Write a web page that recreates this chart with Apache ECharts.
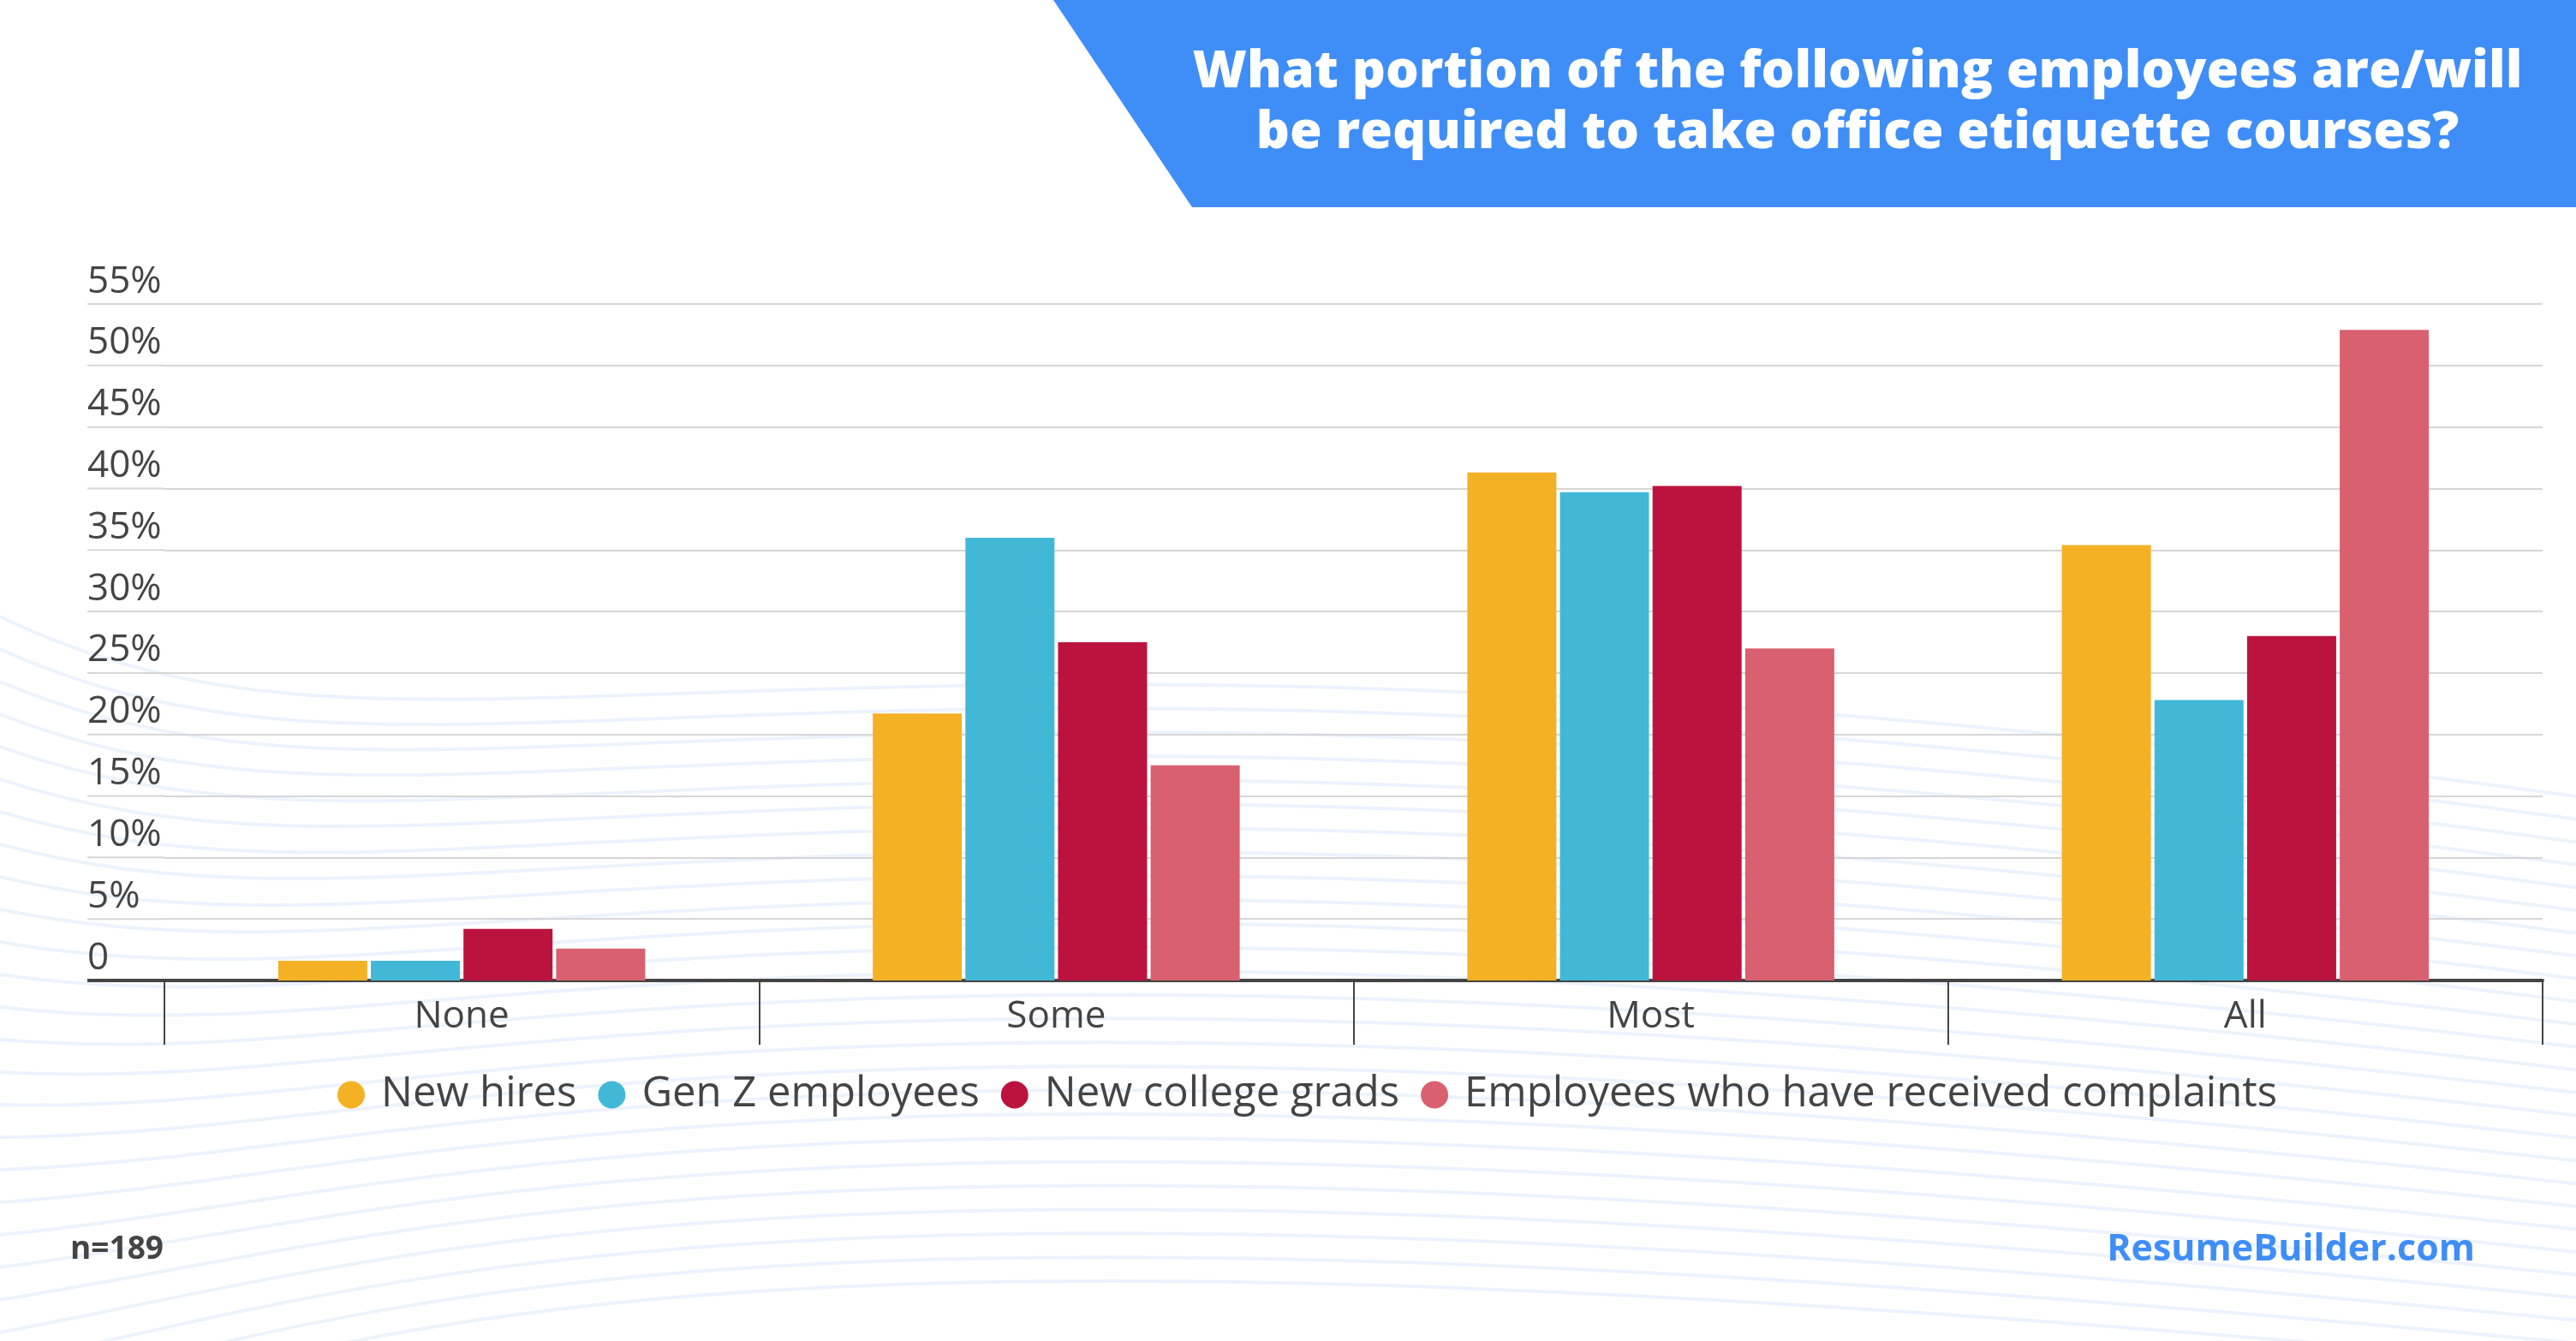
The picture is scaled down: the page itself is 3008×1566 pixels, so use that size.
<!DOCTYPE html>
<html>
<head>
<meta charset="utf-8">
<title>Office etiquette courses</title>
<script src="https://cdn.jsdelivr.net/npm/echarts@6/dist/echarts.min.js"></script>
<style>
    html, body { margin: 0; padding: 0; background: #fff; }
    #main { width: 3008px; height: 1566px; }
</style>
</head>
<body>
<div id="main"></div>
<script>
// data (percent of n=189)
var categories = ['None', 'Some', 'Most', 'All'];
var seriesNames = ['New hires', 'Gen Z employees', 'New college grads', 'Employees who have received complaints'];
var newHires = [1.6, 21.7, 41.3, 35.4];
var genZ = [1.6, 36.0, 39.7, 22.8];
var collegeGrads = [4.2, 27.5, 40.2, 28.0];
var complaints = [2.6, 17.5, 27.0, 52.9];
var yTicks = [0, 5, 10, 15, 20, 25, 30, 35, 40, 45, 50, 55];
var colors = ['#F5B124', '#42B8D7', '#BC133E', '#D9606E'];

var chart = echarts.init(document.getElementById('main'));

var labelFont = '"Open Sans", "Noto Sans", sans-serif';

// faint wave decoration in the background
function waves() {
    var els = [];
    for (var i = 0; i < 26; i++) {
        var o = i * 38;
        els.push({
            type: 'bezierCurve',
            silent: true,
            z: -10,
            shape: {
                x1: 0, y1: 720 + o,
                cpx1: 500, cpy1: 960 + o * 0.6,
                cpx2: 900, cpy2: 640 + o * 0.8,
                x2: 3008, y2: 930 + o * 0.7
            },
            style: { stroke: 'rgba(214,228,248,0.45)', lineWidth: 4, fill: null }
        });
    }
    return els;
}

var option = {
    backgroundColor: '#ffffff',
    animation: false,
    color: colors,
    title: {
        text: 'What portion of the following employees are/will\nbe required to take office etiquette courses?',
        left: 2164,
        top: 44,
        textAlign: 'center',
        textStyle: {
            color: '#ffffff',
            fontFamily: '"Open Sans", Lato, sans-serif',
            fontWeight: 800,
            fontSize: 61,
            lineHeight: 71
        }
    },
    legend: {
        data: seriesNames,
        left: 389,
        top: 1249,
        icon: 'circle',
        itemWidth: 32,
        itemHeight: 32,
        itemGap: 25,
        textStyle: {
            color: '#444444',
            fontFamily: labelFont,
            fontSize: 49,
            padding: [0, 0, 0, 14]
        }
    },
    grid: {
        left: 192,
        right: 39,
        top: 355,
        bottom: 421,
        containLabel: false
    },
    xAxis: {
        type: 'category',
        data: categories,
        axisLine: { lineStyle: { color: '#444444', width: 4 } },
        axisTick: { show: true, length: 75, interval: 0, lineStyle: { color: '#444444', width: 2 } },
        axisLabel: {
            color: '#444444',
            fontFamily: labelFont,
            fontSize: 44,
            margin: 20
        }
    },
    yAxis: {
        type: 'value',
        min: 0,
        max: 55,
        interval: 5,
        axisLine: { show: false },
        axisTick: { show: false },
        splitLine: { lineStyle: { color: '#d6d6d9', width: 2 } },
        axisLabel: {
            align: 'left',
            verticalAlign: 'bottom',
            margin: 90,
            padding: [0, 0, 4, 0],
            color: '#444444',
            fontFamily: labelFont,
            fontSize: 44,
            formatter: function (v) { return v === 0 ? '0' : v + '%'; }
        }
    },
    series: [
        { name: seriesNames[0], type: 'bar', data: newHires, barWidth: 104, barGap: '4%' },
        { name: seriesNames[1], type: 'bar', data: genZ, barWidth: 104, barGap: '4%' },
        { name: seriesNames[2], type: 'bar', data: collegeGrads, barWidth: 104, barGap: '4%' },
        { name: seriesNames[3], type: 'bar', data: complaints, barWidth: 104, barGap: '4%' }
    ]
};

chart.setOption(option);

// decoration: banner, footer, gridline stubs left of the plot
var gfx = waves();
gfx.push({
    type: 'polygon',
    z: -1,
    shape: { points: [[1230, 0], [3008, 0], [3008, 242], [1392, 242]] },
    style: { fill: '#3F8EF7' }
});
yTicks.forEach(function (v) {
    var y = chart.convertToPixel({ yAxisIndex: 0 }, v);
    var x0 = chart.convertToPixel({ xAxisIndex: 0 }, 0) - 347;
    gfx.push({
        type: 'line',
        shape: { x1: 102, y1: y, x2: x0, y2: y },
        style: v === 0 ? { stroke: '#444444', lineWidth: 4 } : { stroke: '#d6d6d9', lineWidth: 2 }
    });
});
gfx.push({
    type: 'text',
    left: 82,
    top: 1441,
    style: { text: 'n=189', fill: '#444444', font: 'bold 37px "Open Sans", sans-serif' }
});
gfx.push({
    type: 'text',
    right: 118,
    top: 1438,
    style: { text: 'ResumeBuilder.com', fill: '#3F8EF7', font: 'bold 43px "Open Sans", sans-serif' }
});
chart.setOption({ graphic: gfx });
</script>
</body>
</html>
